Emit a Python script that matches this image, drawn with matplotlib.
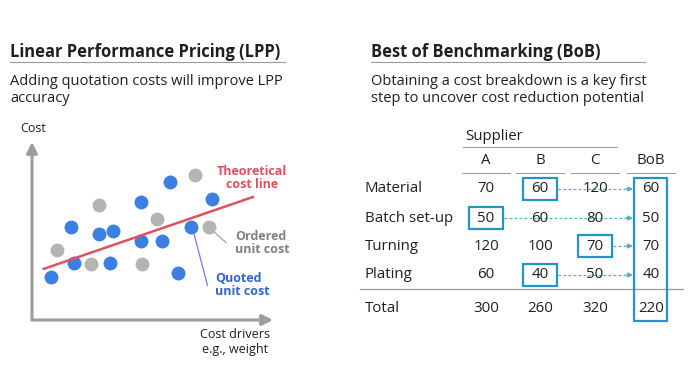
import matplotlib.pyplot as plt
from matplotlib.patches import Rectangle

plt.rcParams['font.family'] = ['Open Sans', 'DejaVu Sans']

# scatter data, arbitrary units (cost driver vs cost, 0-100)
quoted_x = [7.8, 16.1, 17.4, 27.7, 33.7, 32.4, 45.1, 45.1, 53.9, 57.3, 60.6, 65.9, 74.7]
quoted_y = [24.3, 52.4, 32.2, 48.1, 50.2, 32.2, 66.3, 44.6, 44.6, 77.5, 26.6, 52.4, 67.8]
ordered_x = [10.5, 24.4, 27.7, 45.6, 51.7, 67.5, 73.3]
ordered_y = [39.3, 31.3, 64.8, 31.6, 56.7, 81.3, 52.4]
line_x = [4.4, 92.1]
line_y = [28.5, 69.3]

# benchmarking table
rows = ['Material', 'Batch set-up', 'Turning', 'Plating']
suppliers = ['A', 'B', 'C']
costs = [[70, 60, 120],
         [50, 60, 80],
         [120, 100, 70],
         [60, 40, 50]]

BLUE = '#3b7fe3'
GREY = '#b4b4b4'
RED = '#e1505f'
BOX = '#2394c4'
DASH = '#4fb0d2'
TXT = '#1f1f1f'

W, H = 690, 388
fig = plt.figure(figsize=(W / 100, H / 100), dpi=100)
fig.patch.set_facecolor('white')

# ---- scatter chart (left) ----
x0, x1, y0, y1 = 32, 273, 142, 320
sc = fig.add_axes([x0 / W, 1 - y1 / H, (x1 - x0) / W, (y1 - y0) / H])
sc.set_xlim(0, 100)
sc.set_ylim(0, 100)
sc.axis('off')
sc.patch.set_alpha(0)
arrow = dict(arrowstyle='-|>', lw=2.2, color='#9c9c9c', mutation_scale=16, shrinkA=0, shrinkB=0)
sc.annotate('', xy=(0, 100), xytext=(0, 0), arrowprops=arrow, annotation_clip=False)
sc.annotate('', xy=(100, 0), xytext=(0, 0), arrowprops=arrow, annotation_clip=False)
sc.scatter(ordered_x, ordered_y, s=100, color=GREY, lw=0, zorder=3, clip_on=False)
sc.scatter(quoted_x, quoted_y, s=100, color=BLUE, lw=0, zorder=3, clip_on=False)
sc.plot(line_x, line_y, color=RED, lw=1.8, zorder=4, solid_capstyle='butt')
# leader lines
sc.plot([75.5, 80.5], [49.5, 43.5], color='#a0a0a0', lw=0.9, zorder=2)
sc.plot([67.2, 72.8], [48.5, 19.5], color='#6f7fd8', lw=0.9, zorder=2)

# ---- overlay in pixel coordinates ----
ax = fig.add_axes([0, 0, 1, 1])
ax.set_xlim(0, W)
ax.set_ylim(H, 0)
ax.axis('off')
ax.patch.set_alpha(0)

# titles
for x, t, ulen in [(10, 'Linear Performance Pricing (LPP)', 275),
                   (371, 'Best of Benchmarking (BoB)', 274)]:
    ax.text(x, 52, t, fontsize=11.9, fontweight='bold', color=TXT, va='center', ha='left')
    ax.plot([x, x + ulen], [61.5, 61.5], color='#9a9a9a', lw=0.8)

ax.text(10, 90, 'Adding quotation costs will improve LPP\naccuracy', fontsize=10.5,
        color=TXT, va='center', ha='left', linespacing=1.12)
ax.text(371, 90, 'Obtaining a cost breakdown is a key first\nstep to uncover cost reduction potential',
        fontsize=10.5, color=TXT, va='center', ha='left', linespacing=1.12)

# scatter labels
ax.text(33, 129, 'Cost', fontsize=9, color=TXT, ha='center', va='center')
ax.text(235, 342, 'Cost drivers\ne.g., weight', fontsize=9, color=TXT, ha='center',
        va='center', linespacing=1.1)
ax.text(252, 178, 'Theoretical\ncost line', fontsize=9, fontweight='bold', color=RED,
        ha='center', va='center', linespacing=1.05)
ax.text(235, 243, 'Ordered\nunit cost', fontsize=9, fontweight='bold', color='#808080',
        ha='left', va='center', linespacing=1.05)
ax.text(215, 285, 'Quoted\nunit cost', fontsize=9, fontweight='bold', color='#3366cc',
        ha='left', va='center', linespacing=1.05)

# table
col_x = [486, 540, 595, 651]
row_y = [189, 218, 246, 275]
total_y = 308
fs = 10.8

ax.text(465, 137, 'Supplier', fontsize=fs, color=TXT, ha='left', va='center')
ax.plot([463, 617], [147, 147], color='#a0a0a0', lw=0.8)
for cx, h in zip(col_x, suppliers + ['BoB']):
    ax.text(cx, 161, h, fontsize=fs, color=TXT, ha='center', va='center')
    ax.plot([cx - 24, cx + 24], [173, 173], color='#a0a0a0', lw=0.8)

bob = [min(r) for r in costs]
for i, (name, vals) in enumerate(zip(rows, costs)):
    y = row_y[i]
    ax.text(365, y, name, fontsize=fs, color=TXT, ha='left', va='center')
    for j, v in enumerate(vals + [bob[i]]):
        ax.text(col_x[j], y, str(v), fontsize=fs, color=TXT, ha='center', va='center', zorder=3)
    jmin = vals.index(bob[i])
    ax.add_patch(Rectangle((col_x[jmin] - 17, y - 11), 34, 22, fill=False, ec=BOX, lw=1.6, zorder=4))
    xs = col_x[jmin] + 18
    ax.plot([xs, 628], [y, y], color=DASH, lw=0.9, ls=(0, (2.2, 1.8)), zorder=2)
    ax.annotate('', xy=(633, y), xytext=(626, y),
                arrowprops=dict(arrowstyle='-|>', color=DASH, lw=0.9, mutation_scale=7,
                                shrinkA=0, shrinkB=0))

totals = [sum(c) for c in zip(*costs)] + [sum(bob)]
ax.plot([360, 683], [289, 289], color='#9a9a9a', lw=0.9)
ax.text(365, total_y, 'Total', fontsize=fs, color=TXT, ha='left', va='center')
for cx, v in zip(col_x, totals):
    ax.text(cx, total_y, str(v), fontsize=fs, color=TXT, ha='center', va='center')
ax.add_patch(Rectangle((634, 178), 33, 143, fill=False, ec=BOX, lw=1.6, zorder=4))

fig.savefig('out.png', dpi=100, facecolor='white')
